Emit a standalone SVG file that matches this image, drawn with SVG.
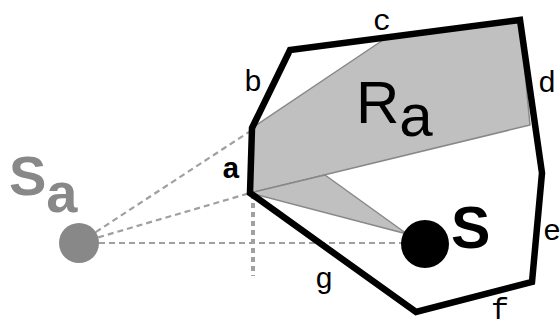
<svg xmlns="http://www.w3.org/2000/svg" width="560" height="325" viewBox="0 0 560 325">
<style>
.reg{fill:#c0c0c0;stroke:#888;stroke-width:1.5;stroke-linejoin:round}
.dash{fill:none;stroke:#a0a0a0;stroke-width:2.2;stroke-dasharray:6,4}
.dot{fill:none;stroke:#a0a0a0;stroke-width:4;stroke-dasharray:5,4}
.lbl{font-family:"Liberation Mono","Courier New",monospace;font-size:30px;fill:#000}
</style>
<rect width="560" height="325" fill="#fff"/>
<g id="regions">
<polygon class="reg" points="252,128 386,38 520,20 530,125 250,193"/>
<polygon class="reg" points="250,193 325,175 407,234"/>
</g>
<g id="connectors">
<line class="dash" x1="79" y1="243" x2="252" y2="130"/>
<line class="dash" x1="79" y1="243" x2="250" y2="193"/>
<line class="dash" x1="79" y1="243" x2="410" y2="243"/>
<line class="dot" x1="253" y1="194" x2="253" y2="276"/>
</g>
<g id="polygon">
<polygon points="252,128 290,50 520,20 542,173 532,282 416,312 250,193" fill="none" stroke="#000" stroke-width="6.5" stroke-linejoin="miter"/>
</g>
<g id="S">
<circle cx="425" cy="244" r="24" fill="#000"/>
<text x="451" y="248" font-family="Liberation Sans,Arial,sans-serif" font-weight="bold" font-size="59" fill="#000">S</text>
</g>
<g id="Sa">
<circle cx="79" cy="243" r="20" fill="#888"/>
<text x="9" y="195" font-family="Liberation Sans,Arial,sans-serif" font-weight="bold" font-size="56" fill="#888">S<tspan dy="17">a</tspan></text>
</g>
<g id="Ra">
<text x="356" y="123" font-family="Liberation Sans,Arial,sans-serif" font-size="60" fill="#000">R<tspan dy="13">a</tspan></text>
</g>
<g id="labels">
<text class="lbl" x="222" y="178" font-weight="bold">a</text>
<text class="lbl" x="244" y="91">b</text>
<text class="lbl" x="373" y="30">c</text>
<text class="lbl" x="538" y="92">d</text>
<text class="lbl" x="543" y="240">e</text>
<text class="lbl" x="491" y="319">f</text>
<text class="lbl" x="315" y="288">g</text>
</g>
</svg>
